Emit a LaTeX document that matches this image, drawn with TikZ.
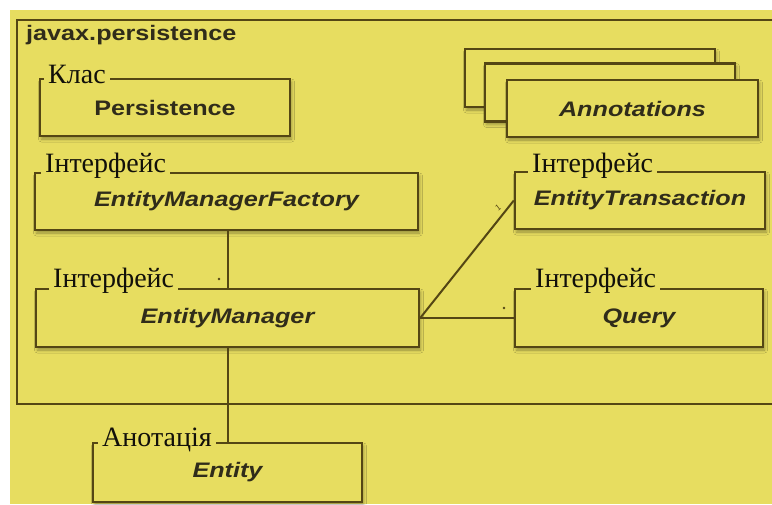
\documentclass[tikz,border=0pt]{standalone}
\usepackage{fontspec}
\usetikzlibrary{calc,shadows.blur}
\newfontfamily\widesans[FakeStretch=1.2]{Liberation Sans}
\newfontfamily\cyrserif{Liberation Serif}
\definecolor{pagebg}{RGB}{231,221,96}
\definecolor{linec}{RGB}{84,70,20}
\definecolor{namec}{RGB}{48,44,26}
\definecolor{stereoc}{RGB}{18,16,10}

\begin{document}
\begin{tikzpicture}[x=1pt,y=-1pt,
  classbox/.style={draw=linec, line width=2.4pt, fill=pagebg, inner sep=0pt,
    minimum height=57pt, text=namec,
    font=\widesans\bfseries\itshape\fontsize{21}{24}\selectfont,
    blur shadow={shadow xshift=1.5pt, shadow yshift=-3pt, shadow opacity=35, shadow blur radius=3pt}},
  plainname/.style={font=\widesans\bfseries\fontsize{21}{24}\selectfont},
  stereo/.style={fill=pagebg, inner xsep=4pt, inner ysep=0pt, anchor=base west,
    text=stereoc, font=\cyrserif\fontsize{28}{30}\selectfont},
  link/.style={draw=linec, line width=2pt},
  multdot/.style={circle, fill=linec, inner sep=0pt, minimum size=2.8pt}
]
\useasboundingbox (0,0) rectangle (772,504);
\fill[white] (0,0) rectangle (772,504);
\fill[pagebg] (10,10) rectangle (772,504);

% package frame and its name
\draw[linec, line width=2.4pt] (772,20) -- (17,20) -- (17,404) -- (772,404);
\node[anchor=west, inner sep=0pt, text=namec, plainname] (pkg) at (26,35) {javax.persistence};

% classes and interfaces
\node[classbox, plainname, minimum width=250pt] (persistence) at (165,107.5) {Persistence};
\node[classbox, minimum width=383pt] (emf) at (226.5,201.5) {EntityManagerFactory};
\node[classbox, minimum width=383pt, minimum height=58pt] (em) at (227.5,318) {EntityManager};
\node[classbox, minimum width=250pt] (et) at (640,200.5) {EntityTransaction};
\node[classbox, minimum width=248pt, minimum height=58pt] (query) at (639,318) {Query};
\node[classbox, minimum width=269pt, minimum height=59pt] (entity) at (227.5,472.5) {Entity};

% stacked annotation boxes
\node[classbox, minimum width=250pt, minimum height=58pt] (annback) at (590,78) {};
\node[classbox, minimum width=250pt, minimum height=58pt] (annmid) at (610,92.5) {};
\node[classbox, minimum width=251pt, minimum height=57pt] (annotations) at (632.5,108.5) {Annotations};

% associations
\draw[link] (em.north) -- (em.north |- emf.south);
\draw[link] (em.south) -- (entity.north);
\draw[link] (em.east) -- (et.west);
\draw[link] (em.east) -- (query.west);

% multiplicities
\node[multdot] (m1) at (219,279) {};
\node[multdot] (m2) at (504,308) {};
\node[text=linec, inner sep=0pt, rotate=38, font=\sffamily\fontsize{9}{9}\selectfont] (m3) at (498,208) {1};

% stereotype labels on the top borders
\node[stereo] (lpers) at (44,83) {Клас};
\node[stereo] (lemf) at (41,172) {Інтерфейс};
\node[stereo] (lem) at (49,287) {Інтерфейс};
\node[stereo] (let) at (528,172) {Інтерфейс};
\node[stereo] (lquery) at (531,287) {Інтерфейс};
\node[stereo] (lentity) at (98,446) {Анотація};
\end{tikzpicture}
\end{document}
